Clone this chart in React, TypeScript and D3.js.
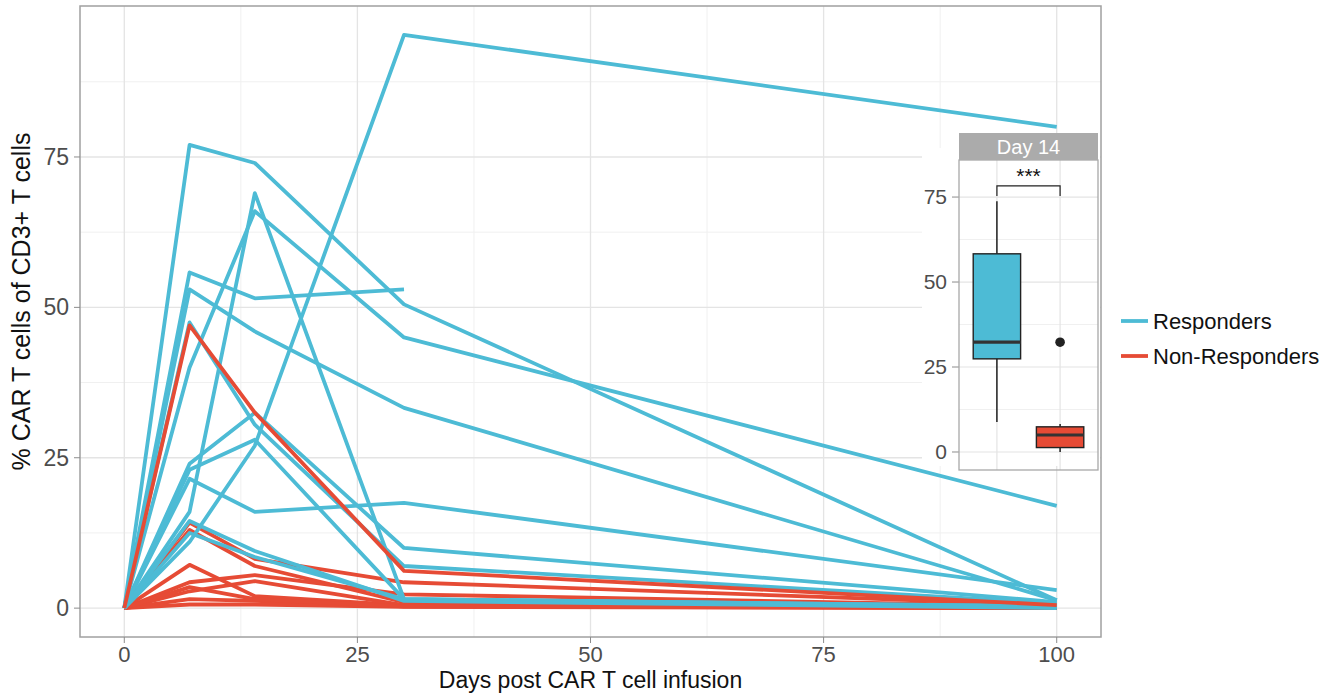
import React, { useEffect, useRef } from 'react'
import * as d3 from 'd3'

// Days the samples were taken
const days = [0, 7, 14, 30, 100]

// % CAR T cells of CD3+ T cells, one row per patient (null = no sample)
const responders = [
    [0, 77, 74, 50.5, 1.3],
    [0, 40, 66, 45, 17],
    [0, 16, 69, 1.5, 0.3],
    [0, 55.8, 51.5, 53, null],
    [0, 53, 46, 33.3, 1.3],
    [0, 11, 27, 95.3, 80],
    [0, 21.5, 16, 17.5, 3],
    [0, 24, 32.5, 10, 1],
    [0, 47.5, 30.5, 7, 0.8],
    [0, 23, 28, 1.5, 0.2],
    [0, 12.5, 8.5, 1.5, 0.3],
    [0, 14.5, 9.5, 1.2, 0]
]

const nonResponders = [
    [0, 47, 32.5, 6.2, 0.5],
    [0, 14.2, 8.2, 4.3, 0.5],
    [0, 13, 7, 1, 0.3],
    [0, 7.2, 2, 0.5, 0.2],
    [0, 4.3, 5.5, 2.3, 0.3],
    [0, 2.8, 4.5, 0.5, 0],
    [0, 1.5, 1.2, 0.3, 0.1],
    [0, 0.6, 0.6, 0.2, 0],
    [0, 3.5, 1.5, 0.3, 0]
]

const groups = ['Responders', 'Non-Responders']
const colors = ['#4DBBD5', '#E64B35']

const xTicks = [0, 25, 50, 75, 100]
const xMinor = [12.5, 37.5, 62.5, 87.5]
const yTicks = [0, 25, 50, 75]
const yMinor = [12.5, 37.5, 62.5, 87.5]

// Day 14 inset boxplot, per group
const boxLow = [8.8, 0]
const boxQ1 = [27.4, 1.3]
const boxMedian = [32.3, 5]
const boxQ3 = [58.3, 7.4]
const boxHigh = [73.8, 8.2]
const outliers = [[], [32.3]]
const insetTicks = [0, 25, 50, 75]
const insetMinor = [12.5, 37.5, 62.5]
const bracketTop = 78.3
const bracketEnd = 75.3

const FONT = '"Liberation Sans", Arial, sans-serif'

export default function App() {
    const ref = useRef(null)

    useEffect(() => {
        document.body.style.margin = '0'
        var svg = d3.select(ref.current)
        svg.selectAll('*').remove()

        // Main panel
        var left = 80, right = 1101, top = 6, bottom = 637
        var x = d3.scaleLinear().domain([-4.75, 104.75]).range([left, right])
        var y = d3.scaleLinear().domain([-4.8, 100.1]).range([bottom, top])

        svg.append('rect')
            .attr('x', left).attr('y', top)
            .attr('width', right - left).attr('height', bottom - top)
            .attr('fill', '#fff')

        // Grid
        var grid = svg.append('g')
        xMinor.forEach(v => {
            grid.append('line').attr('x1', x(v)).attr('x2', x(v)).attr('y1', top).attr('y2', bottom)
                .attr('stroke', '#F0F0F0').attr('stroke-width', 1)
        })
        yMinor.forEach(v => {
            grid.append('line').attr('x1', left).attr('x2', right).attr('y1', y(v)).attr('y2', y(v))
                .attr('stroke', '#F0F0F0').attr('stroke-width', 1)
        })
        xTicks.forEach(v => {
            grid.append('line').attr('x1', x(v)).attr('x2', x(v)).attr('y1', top).attr('y2', bottom)
                .attr('stroke', '#E4E4E4').attr('stroke-width', 1.3)
        })
        yTicks.forEach(v => {
            grid.append('line').attr('x1', left).attr('x2', right).attr('y1', y(v)).attr('y2', y(v))
                .attr('stroke', '#E4E4E4').attr('stroke-width', 1.3)
        })

        // Patient lines
        var line = d3.line()
            .defined(d => d[1] != null)
            .x(d => x(d[0]))
            .y(d => y(d[1]))

        var drawPatient = (values, color) => {
            svg.append('path')
                .datum(days.map((d, i) => [d, values[i]]))
                .attr('d', line)
                .attr('fill', 'none')
                .attr('stroke', color)
                .attr('stroke-width', 3.8)
                .attr('stroke-linejoin', 'round')
        }

        // most non-responders sit under the responders, the high one sits on top
        nonResponders.slice(1).forEach(v => drawPatient(v, colors[1]))
        responders.forEach(v => drawPatient(v, colors[0]))
        drawPatient(nonResponders[0], colors[1])

        // Inset: Day 14 boxplot
        var iLeft = 959, iRight = 1098, iTop = 160, iBottom = 470
        var ix = d3.scalePoint().domain(groups).range([iLeft, iRight]).padding(0.6)
        var iy = d3.scaleLinear().domain([-5.3, 85.9]).range([iBottom, iTop])

        svg.append('rect')
            .attr('x', 922).attr('y', 148)
            .attr('width', 178).attr('height', iBottom - 4 - 148)
            .attr('fill', '#fff')

        var inset = svg.append('g')
        insetMinor.forEach(v => {
            inset.append('line').attr('x1', iLeft).attr('x2', iRight).attr('y1', iy(v)).attr('y2', iy(v))
                .attr('stroke', '#F0F0F0').attr('stroke-width', 1)
        })
        insetTicks.forEach(v => {
            inset.append('line').attr('x1', iLeft).attr('x2', iRight).attr('y1', iy(v)).attr('y2', iy(v))
                .attr('stroke', '#E4E4E4').attr('stroke-width', 1.2)
            inset.append('line').attr('x1', iLeft - 7).attr('x2', iLeft).attr('y1', iy(v)).attr('y2', iy(v))
                .attr('stroke', '#8C8C8C').attr('stroke-width', 1)
            inset.append('text')
                .text(v)
                .attr('x', iLeft - 12)
                .attr('y', iy(v) + 7)
                .attr('text-anchor', 'end')
                .attr('font-family', FONT)
                .attr('font-size', '21px')
                .attr('fill', '#4D4D4D')
        })
        groups.forEach(g => {
            inset.append('line').attr('x1', ix(g)).attr('x2', ix(g)).attr('y1', iTop).attr('y2', iBottom)
                .attr('stroke', '#E4E4E4').attr('stroke-width', 1.2)
        })

        var boxW = ix.step() * 0.75
        groups.forEach((g, i) => {
            var cx = ix(g)
            // whiskers
            inset.append('line').attr('x1', cx).attr('x2', cx).attr('y1', iy(boxHigh[i])).attr('y2', iy(boxQ3[i]))
                .attr('stroke', '#111').attr('stroke-width', 1.4)
            inset.append('line').attr('x1', cx).attr('x2', cx).attr('y1', iy(boxQ1[i])).attr('y2', iy(boxLow[i]))
                .attr('stroke', '#111').attr('stroke-width', 1.4)
            // box
            inset.append('rect')
                .attr('x', cx - boxW / 2).attr('y', iy(boxQ3[i]))
                .attr('width', boxW).attr('height', iy(boxQ1[i]) - iy(boxQ3[i]))
                .attr('fill', colors[i]).attr('stroke', '#222').attr('stroke-width', 1.4)
            // median
            inset.append('line').attr('x1', cx - boxW / 2).attr('x2', cx + boxW / 2)
                .attr('y1', iy(boxMedian[i])).attr('y2', iy(boxMedian[i]))
                .attr('stroke', '#333').attr('stroke-width', 3.2)
            outliers[i].forEach(o => {
                inset.append('circle').attr('cx', cx).attr('cy', iy(o)).attr('r', 4.8).attr('fill', '#222')
            })
        })

        // Significance bracket
        var b0 = ix(groups[0]), b1 = ix(groups[1])
        inset.append('path')
            .attr('d', `M${b0},${iy(bracketEnd)}V${iy(bracketTop)}H${b1}V${iy(bracketEnd)}`)
            .attr('fill', 'none').attr('stroke', '#222').attr('stroke-width', 1.2)
        inset.append('text')
            .text('***')
            .attr('x', (b0 + b1) / 2)
            .attr('y', iy(bracketTop) - 3)
            .attr('text-anchor', 'middle')
            .attr('font-family', FONT)
            .attr('font-size', '21px')
            .attr('fill', '#111')

        inset.append('rect')
            .attr('x', iLeft).attr('y', iTop)
            .attr('width', iRight - iLeft).attr('height', iBottom - iTop)
            .attr('fill', 'none').attr('stroke', '#A8A8A8').attr('stroke-width', 1.3)

        // Strip
        inset.append('rect')
            .attr('x', iLeft).attr('y', 133)
            .attr('width', iRight - iLeft).attr('height', iTop - 133)
            .attr('fill', '#ABABAB')
        inset.append('text')
            .text('Day 14')
            .attr('x', (iLeft + iRight) / 2)
            .attr('y', 154)
            .attr('text-anchor', 'middle')
            .attr('font-family', FONT)
            .attr('font-size', '20px')
            .attr('fill', '#fff')

        // Panel border
        svg.append('rect')
            .attr('x', left).attr('y', top)
            .attr('width', right - left).attr('height', bottom - top)
            .attr('fill', 'none').attr('stroke', '#A0A0A0').attr('stroke-width', 1.5)

        // Axes
        xTicks.forEach(v => {
            svg.append('line').attr('x1', x(v)).attr('x2', x(v)).attr('y1', bottom).attr('y2', bottom + 6)
                .attr('stroke', '#8C8C8C').attr('stroke-width', 1)
            svg.append('text')
                .text(v)
                .attr('x', x(v))
                .attr('y', bottom + 25)
                .attr('text-anchor', 'middle')
                .attr('font-family', FONT)
                .attr('font-size', '22px')
                .attr('fill', '#4D4D4D')
        })
        yTicks.forEach(v => {
            svg.append('line').attr('x1', left - 6).attr('x2', left).attr('y1', y(v)).attr('y2', y(v))
                .attr('stroke', '#8C8C8C').attr('stroke-width', 1)
            svg.append('text')
                .text(v)
                .attr('x', left - 11)
                .attr('y', y(v) + 8)
                .attr('text-anchor', 'end')
                .attr('font-family', FONT)
                .attr('font-size', '23px')
                .attr('fill', '#4D4D4D')
        })

        svg.append('text')
            .text('Days post CAR T cell infusion')
            .attr('x', (left + right) / 2)
            .attr('y', 688)
            .attr('text-anchor', 'middle')
            .attr('font-family', FONT)
            .attr('font-size', '23px')
            .attr('fill', '#111')

        svg.append('text')
            .text('% CAR T cells of CD3+ T cells')
            .attr('transform', `translate(30,${(top + bottom) / 2 - 20}) rotate(-90)`)
            .attr('text-anchor', 'middle')
            .attr('font-family', FONT)
            .attr('font-size', '25px')
            .attr('fill', '#111')

        // Legend
        groups.forEach((g, i) => {
            var ly = 321 + i * 35
            svg.append('line').attr('x1', 1121).attr('x2', 1148).attr('y1', ly).attr('y2', ly)
                .attr('stroke', colors[i]).attr('stroke-width', 3.8)
            svg.append('text')
                .text(g)
                .attr('x', 1153)
                .attr('y', ly + 8)
                .attr('font-family', FONT)
                .attr('font-size', '22px')
                .attr('fill', '#111')
        })
    }, [])

    return <svg ref={ref} width={1340} height={694} style={{ display: 'block' }}></svg>
}
